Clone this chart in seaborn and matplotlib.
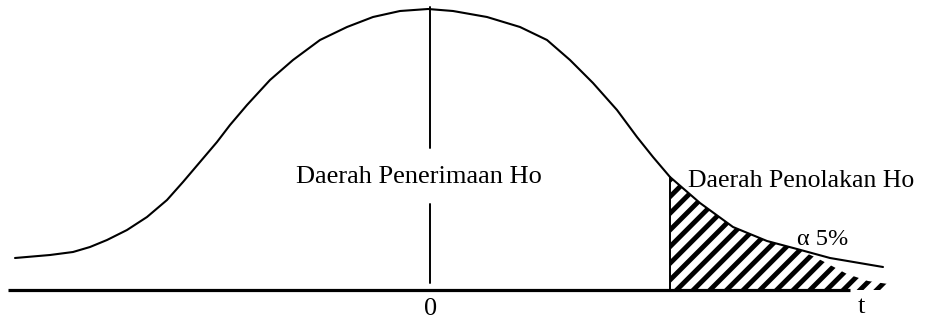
import matplotlib
matplotlib.use("Agg")
import matplotlib.pyplot as plt
import seaborn as sns
import pandas as pd

# ---- data (diagram units: x relative to centre "0", h = height above t-axis) ----
curve_x = [-415, -380, -357, -340, -323, -303, -283, -263, -247, -230, -213, -200,
           -183, -160, -137, -110, -83, -57, -30, -2, 23, 57, 90, 117, 140,
           163, 187, 207, 223, 240, 270, 303, 337, 367, 400, 453]
curve_h = [32, 35, 38, 43, 50, 60, 73, 90, 108, 128, 148, 165,
           185, 210, 230, 250, 263, 273, 279, 281, 279, 273, 263, 250, 230,
           207, 180, 153, 133, 113, 87, 63, 49, 41, 32, 23]

# rejection region (hatched) upper boundary
tail_x = [240, 270, 303, 337, 367, 387, 417, 438, 458]
tail_h = [113, 87, 63, 49, 41, 32, 16, 9, 6]

axis_x = [-422, 420]              # t-axis extent
center_h = [[7, 86], [142, 283]]  # centre line pieces (broken by label)
critical_x = 240                  # critical value position

labels = {
    "accept": "Daerah Penerimaan Ho",
    "reject": "Daerah Penolakan Ho",
    "alpha": "\u03b1 5%",
    "zero": "0",
    "t": "t",
}

sns.set_theme(style="white")
plt.rcParams["font.family"] = ["Liberation Serif", "DejaVu Serif"]
plt.rcParams["hatch.linewidth"] = 3.5
plt.rcParams["text.color"] = "black"

fig = plt.figure(figsize=(9.26, 3.2), dpi=100)
ax = fig.add_axes([0, 0, 1, 1])

df = pd.DataFrame({"x": curve_x, "h": curve_h})
sns.lineplot(data=df, x="x", y="h", ax=ax, color="black", linewidth=1.5,
             sort=False, solid_joinstyle="round")

# hatched rejection region
ax.fill_between(tail_x, 0, tail_h, facecolor="none", edgecolor="black",
                hatch="//", linewidth=0)
ax.plot([critical_x, critical_x], [0, tail_h[0]], color="black", linewidth=1.4)

# t-axis
ax.plot(axis_x, [0, 0], color="black", linewidth=2.3, solid_capstyle="butt")

# centre line
for seg in center_h:
    ax.plot([0, 0], seg, color="black", linewidth=1.4)

ax.text(-11, 107, labels["accept"], ha="center", va="baseline", fontsize=19)
ax.text(258, 103, labels["reject"], ha="left", va="baseline", fontsize=18.5)
ax.text(367, 45, labels["alpha"], ha="left", va="baseline", fontsize=17.5)
ax.text(1, -25, labels["zero"], ha="center", va="baseline", fontsize=19)
ax.text(431, -23, labels["t"], ha="center", va="baseline", fontsize=19)

ax.set_xlim(-430, 496)
ax.set_ylim(-30, 290)
ax.set_axis_off()

fig.savefig("out.png", dpi=100, facecolor="white")
